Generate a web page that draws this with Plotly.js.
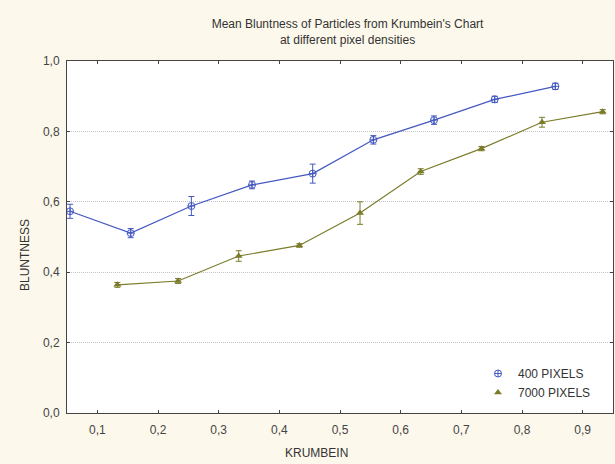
<!DOCTYPE html>
<html>
<head>
<meta charset="utf-8">
<script src="https://cdn.plot.ly/plotly-3.0.1.min.js"></script>
<style>html,body{margin:0;padding:0;background:#fdf8ec;}#chart{width:615px;height:464px;}</style>
</head>
<body>
<div id="chart"></div>
<script>
// Data
const krumbein400 = [0.055, 0.155, 0.255, 0.355, 0.455, 0.555, 0.655, 0.755, 0.855];
const blunt400 = [0.573, 0.511, 0.588, 0.648, 0.680, 0.776, 0.832, 0.891, 0.928];
const err400 = [0.020, 0.013, 0.027, 0.011, 0.027, 0.012, 0.012, 0.009, 0.009];

const krumbein7000 = [0.133, 0.233, 0.333, 0.433, 0.533, 0.633, 0.733, 0.833, 0.933];
const blunt7000 = [0.364, 0.375, 0.446, 0.476, 0.568, 0.686, 0.751, 0.826, 0.856];
const err7000 = [0.007, 0.007, 0.015, 0.005, 0.032, 0.008, 0.006, 0.014, 0.006];

const seriesNames = ['400 PIXELS', '7000 PIXELS'];
const xTicks = [0.1, 0.2, 0.3, 0.4, 0.5, 0.6, 0.7, 0.8, 0.9];
const yTicks = [0.0, 0.2, 0.4, 0.6, 0.8, 1.0];

const blue = '#4358c0';
const olive = '#7b7b2a';
const fontFam = 'Liberation Sans, Arial, sans-serif';

const marker400 = {symbol: 'circle-cross-open', size: 7, color: blue, line: {width: 1, color: blue}};
const marker7000 = {symbol: 'triangle-up', size: 7, color: olive};

const traces = [
  {
    x: krumbein400, y: blunt400, name: seriesNames[0], type: 'scatter', mode: 'lines+markers',
    showlegend: false,
    line: {color: blue, width: 1.2}, marker: marker400,
    error_y: {type: 'data', array: err400, visible: true, color: blue, thickness: 1, width: 3}
  },
  {
    x: krumbein7000, y: blunt7000, name: seriesNames[1], type: 'scatter', mode: 'lines+markers',
    showlegend: false,
    line: {color: olive, width: 1.2}, marker: marker7000,
    error_y: {type: 'data', array: err7000, visible: true, color: olive, thickness: 1, width: 3}
  },
  // legend-only entries (marker icon without the line segment)
  {x: [null], y: [null], name: seriesNames[0], type: 'scatter', mode: 'markers', marker: marker400},
  {x: [null], y: [null], name: seriesNames[1], type: 'scatter', mode: 'markers', marker: marker7000}
];

const axisFont = {family: fontFam, size: 12, color: '#444'};

const layout = {
  width: 615, height: 464,
  paper_bgcolor: '#fdf8ec',
  plot_bgcolor: '#ffffff',
  margin: {l: 67, r: 2, t: 61, b: 51},
  separators: ', ',
  showlegend: true,
  font: {family: fontFam, size: 11, color: '#333'},
  title: {
    text: "Mean Bluntness of Particles from Krumbein's Chart<br>at different pixel densities",
    font: {family: fontFam, size: 12, color: '#333'},
    x: 316/615, xanchor: 'center', xref: 'paper', y: 1 - 28/464, yanchor: 'middle'
  },
  xaxis: {
    range: [0.05, 0.95], tickvals: xTicks, tickformat: '.1f',
    showgrid: false, zeroline: false,
    showline: true, linecolor: '#444', linewidth: 1, mirror: 'ticks',
    ticks: 'inside', ticklen: 3, tickcolor: '#444',
    ticklabelstandoff: 6,
    tickfont: axisFont
  },
  yaxis: {
    range: [0, 1], tickvals: yTicks, tickformat: '.1f',
    showgrid: true, gridcolor: '#c4c4c4', griddash: '1px,1px', gridwidth: 1,
    zeroline: false,
    showline: true, linecolor: '#444', linewidth: 1, mirror: 'ticks',
    ticks: 'inside', ticklen: 3, tickcolor: '#444',
    ticklabelstandoff: 4,
    tickfont: axisFont
  },
  legend: {
    x: (478-67)/546, y: (413-359)/352, xanchor: 'left', yanchor: 'top',
    bgcolor: 'rgba(0,0,0,0)', font: {family: fontFam, size: 12, color: '#333'},
    tracegroupgap: 0, itemwidth: 30
  },
  annotations: [
    {text: 'KRUMBEIN', xref: 'paper', yref: 'paper', x: (316-67)/546, y: -40/352, xanchor: 'center', yanchor: 'middle', showarrow: false,
     font: {family: fontFam, size: 12, color: '#333'}},
    {text: 'BLUNTNESS', xref: 'paper', yref: 'paper', x: (25-67)/546, y: (413-255)/352, xanchor: 'center', yanchor: 'middle', textangle: -90, showarrow: false,
     font: {family: fontFam, size: 12, color: '#333'}}
  ]
};

Plotly.newPlot('chart', traces, layout, {displayModeBar: false, staticPlot: true});
</script>
</body>
</html>
